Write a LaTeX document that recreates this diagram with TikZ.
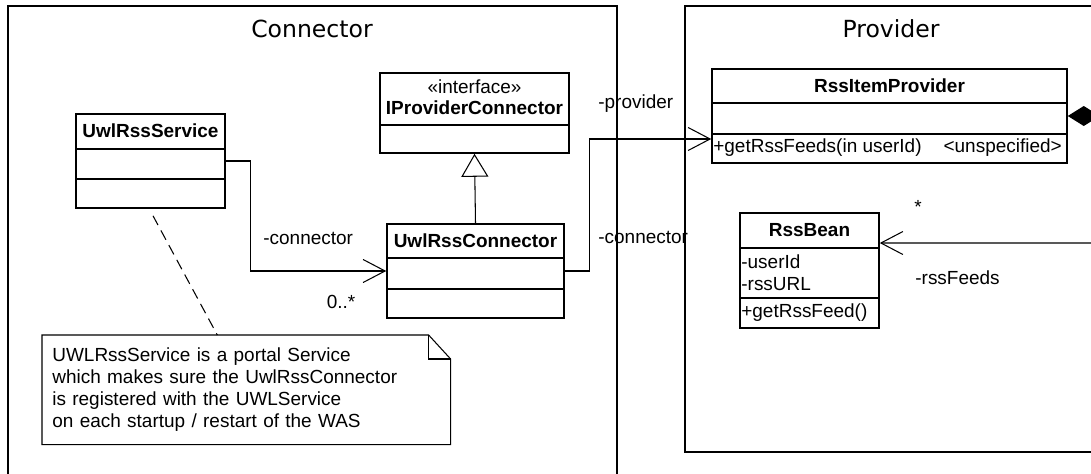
\documentclass[tikz,border=0pt]{standalone}
\usepackage{fontspec}
\setmainfont{Liberation Sans}
\newfontfamily\pkgfont{DejaVu Sans}
\usetikzlibrary{arrows.meta}
\newcommand{\umlsize}{\fontsize{10.8}{12.6}\selectfont}

\tikzset{
	pkgframe/.style={draw, line width=0.8pt},
	pkgtitle/.style={font=\pkgfont\fontsize{13.4}{16}\selectfont},
	classbox/.style={draw, line width=0.9pt, inner sep=0pt},
	classline/.style={line width=0.9pt},
	classname/.style={font=\umlsize\bfseries},
	member/.style={anchor=west, inner sep=0pt, font=\umlsize},
	rolelabel/.style={anchor=west, inner sep=0pt, font=\umlsize},
	assoc/.style={line width=0.6pt, -{Straight Barb[length=0.44cm,width=0.46cm]}},
	inherit/.style={line width=0.6pt, -{Triangle[open,length=0.46cm,width=0.54cm,fill=white]}},
	notetext/.style={anchor=north west, text width=7.76cm, inner xsep=0.2cm,
		minimum height=2.18cm, align=left, font=\umlsize},
	noteline/.style={line width=0.6pt},
	notelink/.style={line width=0.6pt, dash pattern=on 6pt off 3.5pt}
}

\begin{document}
\begin{tikzpicture}[x=0.02cm, y=-0.02cm]
		\useasboundingbox (0,0) rectangle (1091,473);
		\clip (0,0) rectangle (1091,473);
		% packages
		\draw[pkgframe] (8,6) rectangle (617,490);
		\draw[pkgframe] (685,6) rectangle (1110,452);
		\node[pkgtitle] (conntitle) at (312,29) {Connector};
		\node[pkgtitle] (provtitle) at (891,29) {Provider};

		% classes of the Connector package
		\node[classbox, minimum width=2.98cm, minimum height=1.88cm] (svc) at (150.5,161) {};
		\draw[classline] (76,149) -- (225,149);
		\draw[classline] (76,179) -- (225,179);
		\node[classname] (svcname) at (150.5,131) {UwlRssService};

		\node[classbox, minimum width=3.78cm, minimum height=1.6cm] (ipc) at (474.5,113) {};
		\draw[classline] (380,125) -- (569,125);
		\node[font=\umlsize] (ipcstereo) at (474.5,87) {«interface»};
		\node[classname] (ipcname) at (474.5,108) {IProviderConnector};

		\node[classbox, minimum width=3.54cm, minimum height=1.88cm] (conn) at (475.5,271) {};
		\draw[classline] (387,258) -- (564,258);
		\draw[classline] (387,289) -- (564,289);
		\node[classname] (connname) at (475.5,241) {UwlRssConnector};

		% classes of the Provider package
		\node[classbox, minimum width=7.10cm, minimum height=1.88cm] (rip) at (889.5,116) {};
		\draw[classline] (712,103) -- (1067,103);
		\draw[classline] (712,134) -- (1067,134);
		\node[classname] (ripname) at (889.5,86) {RssItemProvider};
		\node[member] (ripop) at (713,148) {+getRssFeeds(in userId)\hspace*{12.5pt}<unspecified>};
		\fill (rip.east) -- ++(16,-10) -- ++(16,10) -- ++(-16,10) -- cycle;

		\node[classbox, minimum width=2.78cm, minimum height=2.30cm] (bean) at (809.5,270.5) {};
		\draw[classline] (740,248) -- (879,248);
		\draw[classline] (740,298) -- (879,298);
		\node[classname] (beanname) at (809.5,230) {RssBean};
		\node[member] (beanuser) at (741,262) {-userId};
		\node[member] (beanurl) at (741,284) {-rssURL};
		\node[member] (beanop) at (741,313) {+getRssFeed()};

		% relations
		\draw[inherit] (conn.north) -- (ipc.south);
		\draw[assoc] (svc.east) -- ++(25,0) |- (conn.west);
		\draw[assoc] (conn.east) -- ++(25,0) |- ([yshift=-0.46cm]rip.west);
		\coordinate (feedsend) at (1100,243);
		\draw[assoc] (feedsend) -- ([yshift=0.55cm]bean.east);

		\node[rolelabel] (lblconn) at (263,238) {-connector};
		\node[font=\umlsize] (multconn) at (341,302) {0..*};
		\node[rolelabel] (lblprov) at (598,104) {-provider};
		\node[rolelabel] (lblback) at (598,237) {-connector};
		\node[rolelabel] (lblfeeds) at (915,278) {-rssFeeds};
		\node[font=\umlsize] (multfeeds) at (918,207) {*};

		% note
		\node[notetext] (note) at (42,335) {UWLRssService is a portal Service\\
			which makes sure the UwlRssConnector\\
			is registered with the UWLService\\
			on each startup / restart of the WAS};
		\draw[noteline] (note.north west) -- ([xshift=-0.44cm]note.north east)
			-- ([yshift=-0.48cm]note.north east) -- (note.south east) -- (note.south west) -- cycle;
		\draw[noteline] ([xshift=-0.44cm]note.north east) |- ([yshift=-0.48cm]note.north east);
		\draw[notelink] ([xshift=0.05cm,yshift=-0.14cm]svc.south) -- ([xshift=-0.58cm]note.north);
\end{tikzpicture}
\end{document}
